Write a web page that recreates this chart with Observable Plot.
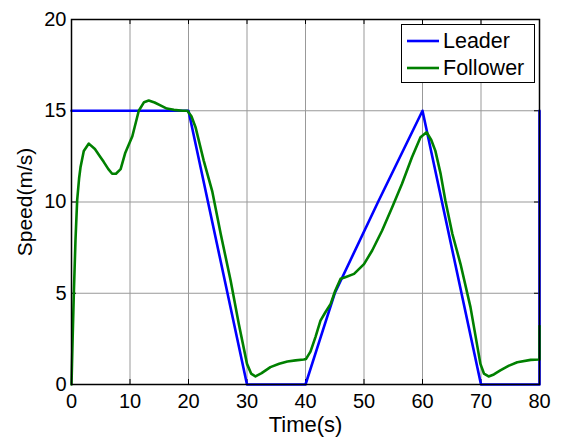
<!DOCTYPE html>
<html>
<head>
<meta charset="utf-8">
<script src="https://cdn.jsdelivr.net/npm/d3@7"></script>
<script src="https://cdn.jsdelivr.net/npm/@observablehq/plot@0.6"></script>
<style>
  html, body { margin: 0; padding: 0; background: #fff; }
  #wrap { position: relative; width: 563px; height: 441px; font-family: "Liberation Sans", Arial, sans-serif; }
  #legend { position: absolute; left: 401px; top: 24px; width: 132px; height: 57px; border: 1px solid #000; background: #fff; }
  .item { position: absolute; left: 5px; height: 26px; display: flex; align-items: center; font-size: 21.5px; color: #000; }
  .item svg { margin-right: 4px; }
</style>
</head>
<body>
<div id="wrap"><div id="legend"></div></div>
<script>
const xTicks = [0, 10, 20, 30, 40, 50, 60, 70, 80];
const yTicks = [0, 5, 10, 15, 20];

const seriesNames = ["Leader", "Follower"];
const seriesColors = ["#0000ff", "#008000"];

const leaderT = [0, 20, 30, 40, 42.5, 45, 52.4, 60, 70, 80, 80];
const leaderV = [15, 15, 0, 0, 2.5, 5, 10, 15, 0, 0, 15];

const followerT = [0, 0.2, 0.4, 0.68, 0.97, 1.3, 1.54, 2.1, 2.96, 4.0, 4.96, 5.5, 6.3, 6.95, 7.6, 8.4, 9.2, 10.4, 11.5, 12.4, 13.2, 14.2, 15.2, 16.3, 17.5, 19.0, 19.8, 20.5, 21.2, 22.6, 24.05, 25.5, 27.2, 28.6, 30.0, 30.7, 31.45, 32.5, 34.0, 35.5, 36.9, 38.3, 39.7, 40.1, 40.85, 41.7, 42.56, 43.4, 44.3, 45.1, 46.0, 46.8, 48.3, 50.0, 51.4, 53.1, 54.8, 56.5, 58.2, 59.66, 60.7, 61.5, 62.2, 63.1, 63.9, 65.1, 66.5, 68.2, 69.9, 70.5, 71.3, 72.2, 73.3, 74.7, 76.2, 78.5, 79.9, 80, 80];
const followerV = [0, 2.6, 5.0, 7.9, 10.1, 11.3, 11.9, 12.8, 13.2, 12.9, 12.45, 12.2, 11.8, 11.55, 11.55, 11.8, 12.7, 13.6, 15.0, 15.47, 15.56, 15.45, 15.29, 15.12, 15.05, 15.0, 15.0, 14.7, 14.1, 12.27, 10.6, 8.26, 5.7, 3.32, 1.13, 0.6, 0.44, 0.62, 0.95, 1.14, 1.26, 1.32, 1.37, 1.4, 1.8, 2.6, 3.5, 3.96, 4.42, 5.15, 5.79, 5.88, 6.06, 6.6, 7.34, 8.44, 9.7, 11.0, 12.45, 13.55, 13.82, 13.4, 12.8, 11.54, 10.1, 8.26, 6.6, 4.24, 1.13, 0.6, 0.44, 0.55, 0.77, 1.02, 1.22, 1.35, 1.37, 1.37, 3.2];

const leader = leaderT.map((t, i) => ({t, v: leaderV[i]}));
const follower = followerT.map((t, i) => ({t, v: followerV[i]}));

const W = 563, H = 441;
const mL = 71, mR = 24, mT = 19, mB = 57;
const innerH = H - mT - mB;

const chart = Plot.plot({
  width: W,
  height: H,
  marginLeft: mL,
  marginRight: mR,
  marginTop: mT,
  marginBottom: mB,
  style: { fontFamily: "'Liberation Sans', Arial, sans-serif", background: "#fff", color: "#000" },
  x: { domain: [0, 80] },
  y: { domain: [0, 20] },
  marks: [
    Plot.ruleX(xTicks, { x: d => d, stroke: "#999", strokeWidth: 1 }),
    Plot.ruleY(yTicks, { y: d => d, stroke: "#999", strokeWidth: 1 }),
    Plot.ruleX(xTicks, { x: d => d, stroke: "#000", insetTop: innerH - 5 }),
    Plot.ruleX(xTicks, { x: d => d, stroke: "#000", insetBottom: innerH - 5 }),
    Plot.ruleY(yTicks, { y: d => d, stroke: "#000", insetRight: (W - mL - mR) - 5 }),
    Plot.ruleY(yTicks, { y: d => d, stroke: "#000", insetLeft: (W - mL - mR) - 5 }),
    Plot.line(leader, { x: "t", y: "v", stroke: seriesColors[0], strokeWidth: 2.6 }),
    Plot.line(follower, { x: "t", y: "v", stroke: seriesColors[1], strokeWidth: 2.6 }),
    Plot.frame({ stroke: "#000", strokeWidth: 1.5 }),
    Plot.axisX(xTicks, { tickSize: 0, tickPadding: 9, fontSize: 20, tickFormat: d => d, label: null }),
    Plot.axisX({ ticks: [], tickSize: 0, fontSize: 22, label: "Time(s)", labelAnchor: "center", labelArrow: "none", labelOffset: 47 }),
    Plot.axisY(yTicks, { tickSize: 0, tickPadding: 5, fontSize: 20, tickFormat: d => d, label: null }),
    Plot.axisY({ ticks: [], tickSize: 0, fontSize: 21, label: "Speed(m/s)", labelAnchor: "center", labelArrow: "none", labelOffset: 54 })
  ]
});
document.getElementById("wrap").prepend(chart);

const legend = document.getElementById("legend");
seriesNames.forEach((name, i) => {
  const item = document.createElement("div");
  item.className = "item";
  item.style.top = (i === 0 ? 3 : 30) + "px";
  item.innerHTML = `<svg width="32" height="6"><line x1="0" x2="32" y1="3" y2="3" stroke="${seriesColors[i]}" stroke-width="2.6"/></svg><span>${name}</span>`;
  legend.appendChild(item);
});
</script>
</body>
</html>
